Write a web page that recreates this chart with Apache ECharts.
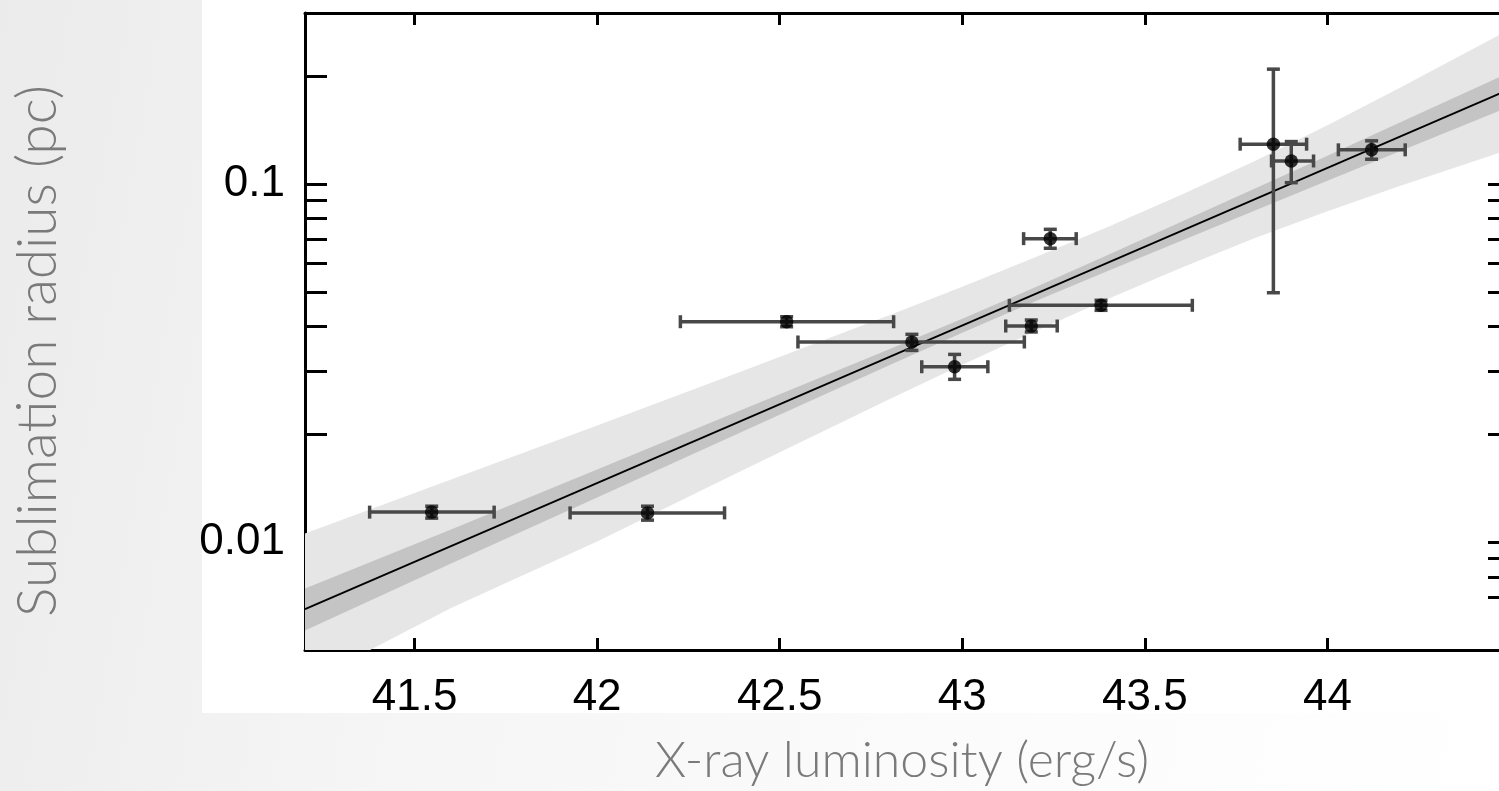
<!DOCTYPE html>
<html lang="en">
<head>
<meta charset="UTF-8">
<title>Sublimation radius vs X-ray luminosity</title>
<script src="https://cdn.jsdelivr.net/npm/echarts@6/dist/echarts.min.js"></script>
<style>
html, body { margin: 0; padding: 0; width: 1499px; height: 791px; overflow: hidden;
  background: linear-gradient(100deg, #ebebeb 0%, #f5f5f5 30%, #fbfbfb 65%, #ffffff 100%); }
#panel { position: absolute; left: 202px; top: 0; width: 1320px; height: 713px; background: #fff; }
#main { position: absolute; left: 0; top: 0; width: 1520px; height: 791px; }
</style>
</head>
<body>
<div id="panel"></div>
<div id="main"></div>
<script>
// points: log X-ray luminosity, sublimation radius (pc), error bar ends
var lumX   = [41.547, 42.138, 42.519, 42.862, 42.979, 43.189, 43.241, 43.380, 43.852, 43.901, 44.121];
var radius = [0.01213, 0.01207, 0.04124, 0.03620, 0.03088, 0.04012, 0.07035, 0.04583, 0.1291, 0.1159, 0.1245];
var lumLo  = [41.377, 41.926, 42.228, 42.550, 42.889, 43.119, 43.168, 43.129, 43.761, 43.847, 44.030];
var lumHi  = [41.718, 42.349, 42.812, 43.170, 43.070, 43.260, 43.312, 43.630, 43.943, 43.962, 44.213];
var radLo  = [0.01167, 0.01152, 0.03994, 0.03430, 0.02848, 0.03862, 0.06613, 0.04438, 0.04969, 0.1008, 0.1172];
var radHi  = [0.01260, 0.01260, 0.04258, 0.03803, 0.03343, 0.04170, 0.07469, 0.04733, 0.2091, 0.1313, 0.1319];

// fit line and its two bands
var fitX = [41.2, 44.5];
var fitY = [0.0065, 0.184];
var bandX   = [41.2, 41.6, 42.0, 42.4, 42.8, 43.0, 43.2, 43.4, 43.6, 43.8, 44.0, 44.2, 44.5];
var outerHi = [0.01058, 0.01497, 0.02118, 0.03008, 0.04298, 0.05163, 0.06243, 0.07594, 0.09333, 0.1157, 0.1459, 0.1857, 0.2701];
var outerLo = [0.004027, 0.006548, 0.01005, 0.01591, 0.02504, 0.03127, 0.03878, 0.04780, 0.05834, 0.07055, 0.08393, 0.09888, 0.1249];
var innerHi = [0.007425, 0.01085, 0.01596, 0.02348, 0.03454, 0.04203, 0.05148, 0.06343, 0.07841, 0.09699, 0.1199, 0.1487, 0.2049];
var innerLo = [0.005665, 0.008720, 0.01333, 0.02039, 0.03117, 0.03841, 0.04703, 0.05724, 0.06942, 0.08420, 0.1021, 0.1235, 0.1646];

// ticks
var xTicks  = [41.5, 42, 42.5, 43, 43.5, 44];
var yTicks  = [0.007, 0.008, 0.009, 0.01, 0.02, 0.03, 0.04, 0.05, 0.06, 0.07, 0.08, 0.09, 0.1, 0.2];
var yLabels = [0.01, 0.1];

var points = lumX.map(function (x, i) {
  return [x, radius[i], lumLo[i], lumHi[i], radLo[i], radHi[i]];
});

function band(lo, hi, color) {
  return {
    type: 'custom',
    clip: true,
    silent: true,
    z: 1,
    data: [[43, 0.05]],
    renderItem: function (params, api) {
      var pts = [];
      for (var i = 0; i < bandX.length; i++) pts.push(api.coord([bandX[i], hi[i]]));
      for (var j = bandX.length - 1; j >= 0; j--) pts.push(api.coord([bandX[j], lo[j]]));
      return { type: 'polygon', shape: { points: pts }, style: { fill: color } };
    }
  };
}

function xAx(pos, showLabel) {
  return {
    type: 'value', position: pos, min: 41.2, max: 44.5,
    axisLine: { lineStyle: { color: '#000', width: 3 } },
    axisTick: { inside: true, length: 12, customValues: xTicks, lineStyle: { color: '#000', width: 3 } },
    axisLabel: { show: showLabel, customValues: xTicks, margin: 26, color: '#000',
      fontSize: 44, fontFamily: 'Liberation Sans, Arial, sans-serif' },
    splitLine: { show: false }
  };
}

function yAx(pos, showLabel) {
  return {
    type: 'log', logBase: 10, position: pos, min: 0.005, max: 0.3,
    axisLine: { lineStyle: { color: '#000', width: 3 } },
    axisTick: { inside: true, length: 22, customValues: yTicks, lineStyle: { color: '#000', width: 3 } },
    axisLabel: { show: showLabel, customValues: yLabels, margin: 20, color: '#000',
      fontSize: 44, fontFamily: 'Liberation Sans, Arial, sans-serif' },
    splitLine: { show: false }
  };
}

var chart = echarts.init(document.getElementById('main'));
chart.setOption({
  backgroundColor: 'transparent',
  animation: false,
  grid: { left: 305, top: 13, width: 1205, height: 637 },
  xAxis: [xAx('bottom', true), xAx('top', false)],
  yAxis: [yAx('left', true), yAx('right', false)],
  graphic: [
    { type: 'text', x: 38, y: 351, rotation: Math.PI / 2,
      style: { text: 'Sublimation radius (pc)', fill: '#7a7a7a', align: 'center', verticalAlign: 'middle',
        font: '300 55px Lato, "Open Sans", sans-serif' } },
    { type: 'text', x: 902, y: 761,
      style: { text: 'X-ray luminosity (erg/s)', fill: '#7a7a7a', align: 'center', verticalAlign: 'middle',
        font: '300 50px Lato, "Open Sans", sans-serif' } }
  ],
  series: [
    band(outerLo, outerHi, '#e6e6e6'),
    band(innerLo, innerHi, '#c4c4c4'),
    {
      type: 'line', z: 3, symbol: 'none', silent: true,
      data: fitX.map(function (x, i) { return [x, fitY[i]]; }),
      lineStyle: { color: '#000', width: 1.8 }
    },
    {
      type: 'custom', z: 4, clip: false, silent: true,
      data: points,
      encode: { x: 0, y: 1 },
      renderItem: function (params, api) {
        var c = api.coord([api.value(0), api.value(1)]);
        var xl = api.coord([api.value(2), api.value(1)])[0];
        var xh = api.coord([api.value(3), api.value(1)])[0];
        var yl = api.coord([api.value(0), api.value(4)])[1];
        var yh = api.coord([api.value(0), api.value(5)])[1];
        var cap = 6.5;
        var st = { stroke: '#484848', lineWidth: 3.5 };
        var seg = function (x1, y1, x2, y2) {
          return { type: 'line', shape: { x1: x1, y1: y1, x2: x2, y2: y2 }, style: st };
        };
        return {
          type: 'group',
          children: [
            seg(xl, c[1], xh, c[1]),
            seg(xl, c[1] - cap, xl, c[1] + cap),
            seg(xh, c[1] - cap, xh, c[1] + cap),
            seg(c[0], yl, c[0], yh),
            seg(c[0] - cap, yl, c[0] + cap, yl),
            seg(c[0] - cap, yh, c[0] + cap, yh)
          ]
        };
      }
    },
    {
      type: 'scatter', z: 5, silent: true,
      symbolSize: 13.5,
      itemStyle: { color: '#000' },
      data: points.map(function (p) { return [p[0], p[1]]; })
    }
  ]
});
</script>
</body>
</html>
